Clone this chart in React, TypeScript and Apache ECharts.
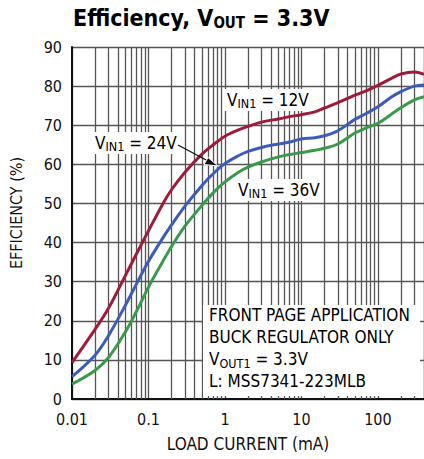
import React, { useEffect, useRef } from "react";
import * as echarts from "echarts";

const FONT = "'Liberation Sans Narrow', 'DejaVu Sans Condensed', 'Liberation Sans', sans-serif";

const xTicks = [0.01, 0.1, 1, 10, 100];
const decades = [0.01, 0.1, 1, 10, 100];
const minorMultipliers = [2, 3, 4, 5, 6, 7, 8, 9];

const vin12: [number, number][] = [
  [0.01, 9.3], [0.02, 17.8], [0.03, 23.2], [0.05, 31.6], [0.07, 37.2], [0.1, 43],
  [0.15, 49.5], [0.2, 53.5], [0.3, 58], [0.5, 62.6], [0.7, 65], [1, 67.2], [1.5, 68.8],
  [2, 69.7], [3, 70.8], [5, 71.6], [7, 72.2], [10, 72.7], [15, 73.4], [20, 74.4], [30, 75.8],
  [50, 77.7], [70, 78.8], [100, 80.2], [150, 82], [200, 83.1], [300, 83.6], [400, 83],
];
const vin24: [number, number][] = [
  [0.01, 5.7], [0.02, 11.2], [0.03, 16.2], [0.05, 24], [0.07, 29.5], [0.1, 35.2],
  [0.15, 40.8], [0.2, 44.5], [0.3, 49.3], [0.5, 54.6], [0.7, 57.6], [1, 60.2], [1.5, 62.2],
  [2, 63.3], [3, 64.3], [5, 65.2], [7, 65.7], [10, 66.5], [15, 66.8], [20, 67.3], [30, 68.6],
  [50, 71.5], [70, 73], [100, 74.7], [150, 77.2], [200, 78.6], [300, 80], [400, 80.3],
];
const vin36: [number, number][] = [
  [0.01, 3.8], [0.02, 7.3], [0.03, 10.6], [0.05, 17.2], [0.07, 22.5], [0.1, 28.6],
  [0.15, 34.8], [0.2, 39], [0.3, 44.2], [0.5, 49.5], [0.7, 52.7], [1, 55.5], [1.5, 58],
  [2, 59.3], [3, 60.6], [5, 61.9], [7, 62.5], [10, 63], [15, 63.6], [20, 64.1], [30, 65.2],
  [50, 68], [70, 69.3], [100, 70.5], [150, 72.8], [200, 74.5], [300, 76.5], [400, 77.3],
];

const RED = "#9e1b3c";
const BLUE = "#3d5cb8";
const GREEN = "#3a9a4b";
const GRID = "#555555";

export default function App() {
  const ref = useRef<HTMLDivElement>(null);
  useEffect(() => {
    if (!ref.current) return;
    const chart = echarts.init(ref.current, undefined, { renderer: "svg" });
    const minorLines: { xAxis: number }[] = [];
    decades.forEach((d) => {
      minorMultipliers.forEach((m) => {
        const v = d * m;
        if (v <= 400) minorLines.push({ xAxis: v });
      });
    });
    const labelRich = {
      v: { fontFamily: FONT, fontSize: 17, color: "#111" },
      s: { fontFamily: FONT, fontSize: 12.5, color: "#111", verticalAlign: "bottom", lineHeight: 13 },
    };
    const vLabel = (left: number, top: number, volt: string) => ({
      type: "text",
      left,
      top,
      z: 100,
      style: {
        text: `{v|V}{s|IN1}{v| = ${volt}}`,
        rich: { v: { ...labelRich.v, lineHeight: 20 }, s: labelRich.s },
        backgroundColor: "#fff",
        padding: [1, 3, 1, 3],
      },
    });
    const curve = (name: string, data: [number, number][], color: string) => ({
      type: "line",
      name,
      data,
      smooth: 0.35,
      showSymbol: false,
      z: 5,
      silent: true,
      lineStyle: { color, width: 3 },
    });
    chart.setOption({
      animation: false,
      backgroundColor: "#fff",
      grid: { left: 72, right: 0, top: 47, bottom: 60 },
      xAxis: {
        type: "log",
        logBase: 10,
        min: 0.01,
        max: 400,
        name: "LOAD CURRENT (mA)",
        nameLocation: "middle",
        nameGap: 36,
        nameTextStyle: { fontFamily: FONT, fontSize: 17, color: "#111" },
        axisLine: { show: true, lineStyle: { color: "#111", width: 2 } },
        axisTick: { show: false },
        axisLabel: {
          fontFamily: FONT,
          fontSize: 16,
          color: "#111",
          margin: 12,
          showMaxLabel: false,
          formatter: (v: number) => {
            const t = xTicks.find((x) => Math.abs(x - v) / x < 1e-6);
            return t === undefined ? "" : String(t);
          },
        },
        splitLine: { show: true, lineStyle: { color: GRID, width: 1.3 } },
      },
      yAxis: {
        type: "value",
        min: 0,
        max: 90,
        interval: 10,
        name: "EFFICIENCY (%)",
        nameLocation: "middle",
        nameGap: 48,
        nameTextStyle: { fontFamily: FONT, fontSize: 16, color: "#111", padding: [0, 0, 0, 20] },
        axisLine: { show: true, lineStyle: { color: "#111", width: 2 } },
        axisTick: { show: false },
        axisLabel: { fontFamily: FONT, fontSize: 16, color: "#111", margin: 10 },
        splitLine: { show: true, lineStyle: { color: GRID, width: 1.3 } },
      },
      series: [
        {
          type: "line",
          data: [],
          z: 1,
          silent: true,
          markLine: {
            silent: true,
            symbol: ["none", "none"],
            label: { show: false },
            lineStyle: { color: GRID, width: 1.3, type: "solid" },
            emphasis: { disabled: true },
            data: minorLines,
          },
        },
        curve("12V", vin12, RED),
        curve("24V", vin24, BLUE),
        curve("36V", vin36, GREEN),
      ],
      graphic: [
        {
          type: "text",
          left: 73,
          top: 6,
          style: {
            text: "{t|Efficiency, V}{s|OUT}{t| = 3.3V}",
            rich: {
              t: { fontFamily: FONT, fontSize: 23, fontWeight: "bold", color: "#111", lineHeight: 26 },
              s: { fontFamily: FONT, fontSize: 15, fontWeight: "bold", color: "#111", verticalAlign: "bottom", lineHeight: 15 },
            },
          },
        },
        vLabel(224, 89, "12V"),
        vLabel(92, 132, "24V"),
        vLabel(235, 179, "36V"),
        {
          type: "line",
          z: 100,
          shape: { x1: 178, y1: 145, x2: 208, y2: 161 },
          style: { stroke: "#111", lineWidth: 1.3 },
        },
        {
          type: "polygon",
          z: 100,
          shape: { points: [[218, 166], [204, 164.5], [208, 157.5]] },
          style: { fill: "#111", stroke: "#fff", lineWidth: 1 },
        },
        {
          type: "rect",
          z: 90,
          shape: { x: 203, y: 305, width: 217, height: 91 },
          style: { fill: "#fff" },
        },
        {
          type: "text",
          z: 100,
          left: 209,
          top: 307,
          style: {
            text: "{v|FRONT PAGE APPLICATION}\n{v|BUCK REGULATOR ONLY}\n{v|V}{s|OUT1}{v| = 3.3V}\n{v|L: MSS7341-223MLB}",
            rich: { v: { ...labelRich.v, lineHeight: 21.7 }, s: { ...labelRich.s } },
          },
        },
      ],
    });
    return () => chart.dispose();
  }, []);
  return <div ref={ref} style={{ position: "fixed", left: 0, top: 0, width: 424, height: 459 }} />;
}
